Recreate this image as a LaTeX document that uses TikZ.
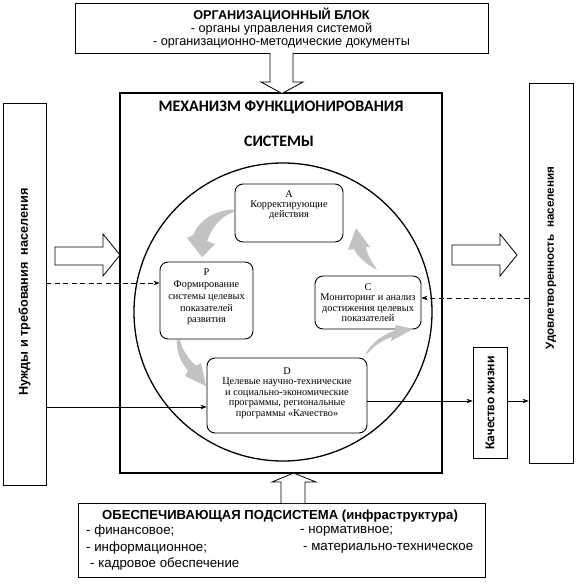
\documentclass[tikz,border=0pt]{standalone}
\usepackage{fontspec}
\setmainfont{Liberation Sans}
\newfontfamily\serfont{Liberation Serif}
\newfontfamily\calfont{Carlito}
\usetikzlibrary{arrows.meta,calc}
\begin{document}
\begin{tikzpicture}[x=1pt,y=-1pt,
  box/.style={draw, line width=0.9pt, inner sep=0pt, align=center},
  tallbox/.style={draw, line width=0.7pt, inner sep=0pt},
  inbox/.style={draw, line width=0.9pt, rounded corners=8pt, inner sep=0pt, align=center,
     font=\serfont\fontsize{10.3}{10.4}\selectfont},
  intext/.style={inner sep=0pt, align=center, font=\serfont\fontsize{10.3}{10.4}\selectfont},
  conn/.style={line width=0.7pt, -{Stealth[length=6pt,width=4.5pt]}},
  dconn/.style={conn, dash pattern=on 5pt off 3.5pt},
  hollow/.style={draw, line width=0.8pt, fill=white},
  grayarr/.style={fill=black!24, draw=none},
  btext/.style={anchor=west, inner sep=0pt, font=\fontsize{13.3}{14}\selectfont}]
\useasboundingbox (0,0) rectangle (579,585);
\fill[white] (0,0) rectangle (579,585);

% main frame
\node[box, line width=1.5pt, minimum width=322pt, minimum height=380pt] (mech) at (281,283) {};
\node[font=\calfont\bfseries\fontsize{16}{18}\selectfont] (t1) at (281,107) {МЕХАНИЗМ ФУНКЦИОНИРОВАНИЯ};
\node[font=\calfont\bfseries\fontsize{16}{18}\selectfont] (t2) at (279,141) {СИСТЕМЫ};
\node[draw, line width=1.3pt, circle, minimum size=298pt, inner sep=0pt] (circ) at (283,312) {};

% top block
\node[box, minimum width=413pt, minimum height=50pt, font=\fontsize{12.7}{13}\selectfont] (org) at (281.5,28)
  {\textbf{ОРГАНИЗАЦИОННЫЙ БЛОК}\\- органы управления системой\\- организационно-методические документы};

% bottom block
\node[box, minimum width=407pt, minimum height=74pt] (sup) at (281.5,540) {};
\node[font=\bfseries\fontsize{13.1}{14}\selectfont] (suph) at (280,516) {ОБЕСПЕЧИВАЮЩАЯ ПОДСИСТЕМА (инфраструктура)};
\node[btext] (s1) at (86,531) {- финансовое;};
\node[btext] (s2) at (300,531) {- нормативное;};
\node[btext] (s3) at (86,548) {- информационное;};
\node[btext] (s4) at (303,548) {- материально-техническое};
\node[btext] (s5) at (90,564) {- кадровое обеспечение};

% side boxes
\node[tallbox, minimum width=43pt, minimum height=382pt] (needs) at (24.5,294) {};
\node[rotate=90, font=\bfseries\fontsize{12.7}{14}\selectfont] (needst) at (24.5,292) {Нужды и требования\ \ населения};
\node[tallbox, minimum width=44pt, minimum height=380pt] (sat) at (551,273) {};
\node[rotate=90, font=\bfseries\fontsize{11.6}{14}\selectfont] (satt) at (551,258) {Удовлетворенность\ \ населения};
\node[tallbox, minimum width=34pt, minimum height=111pt] (qual) at (490,402.5) {};
\node[rotate=90, font=\calfont\bfseries\fontsize{13.5}{15}\selectfont] (qualt) at (490,403) {Качество жизни};

% PDCA boxes
\node[inbox, minimum width=108pt, minimum height=58pt] (A) at (289,213) {};
\node[intext] (At) at (289,205) {A\\Корректирующие\\действия};
\node[inbox, minimum width=93pt, minimum height=77pt] (P) at (206.5,300.5) {};
\node[intext, font=\serfont\fontsize{10.3}{11.8}\selectfont] (Pt) at (206.5,297) {P\\Формирование\\системы целевых\\показателей\\развития};
\node[inbox, minimum width=106pt, minimum height=53pt] (C) at (368,302.5) {C\\Мониторинг и анализ\\достижения целевых\\показателей};
\node[inbox, minimum width=160pt, minimum height=75pt] (D) at (287,395.5) {};
\node[intext] (Dt) at (287,393) {D\\Целевые научно-технические\\и социально-экономические\\программы, региональные\\программы «Качество»};

% hollow arrows
\draw[hollow] (270,53) -- (270,82) -- (261,82) -- (282,93.5) -- (303,82) -- (293,82) -- (293,53);
\draw[hollow] (281,503) -- (281,482) -- (272,482) -- (293.5,473) -- (316,482) -- (305,482) -- (305,503);
\draw[hollow] (55,247) -- (103,247) -- (103,234) -- (120,255) -- (103,276) -- (103,265) -- (55,265) -- cycle;
\draw[hollow] (452,245) -- (500,245) -- (500,234) -- (517,255) -- (500,276) -- (500,265) -- (452,265) -- cycle;

% gray curved arrows
\fill[grayarr] (234,209.5) .. controls (214,210) and (199,221) .. (193,235) -- (187,238) -- (202,257) -- (215,244) -- (207,241) .. controls (212,227) and (221,216) .. (234,212) -- cycle;
\fill[grayarr] (177,340) .. controls (176,352) and (181,362) .. (188,371) -- (185,376) -- (206,386) -- (201,363) -- (196,366) .. controls (188,358) and (182,350) .. (180,340) -- cycle;
\fill[grayarr] (366,355) .. controls (374,346) and (382,340) .. (392,337) -- (391,341) -- (413,329) -- (396,325) -- (394,331) .. controls (382,335) and (372,343) .. (366,353) -- cycle;
\fill[grayarr] (377,270) .. controls (372,262) and (367,255) .. (366,247) -- (370,247) -- (356,228) -- (348,250) -- (354,249) .. controls (358,257) and (366,264) .. (377,270) -- cycle;

% connectors
\coordinate (yd1) at (0,283);
\coordinate (yd2) at (0,298);
\coordinate (ys1) at (0,407);
\coordinate (ys2) at (0,401);
\draw[dconn] (needs.east |- yd1) -- (P.west |- yd1);
\draw[dconn] (sat.west |- yd2) -- (C.east |- yd2);
\draw[conn] (needs.east |- ys1) -- (D.west |- ys1);
\draw[conn] (D.east |- ys2) -- (qual.west |- ys2);
\draw[conn] (qual.east |- ys2) -- (sat.west |- ys2);
\end{tikzpicture}
\end{document}
